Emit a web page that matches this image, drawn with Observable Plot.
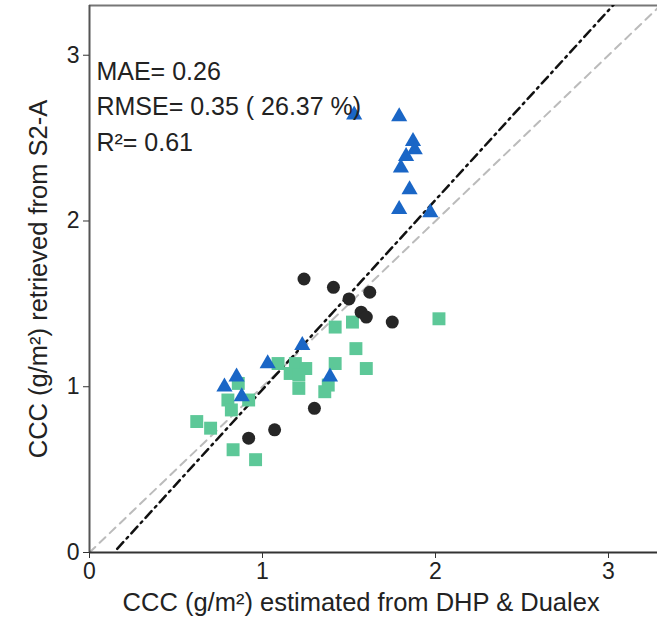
<!DOCTYPE html>
<html><head><meta charset="utf-8">
<script src="https://cdn.jsdelivr.net/npm/d3@7"></script>
<script src="https://cdn.jsdelivr.net/npm/@observablehq/plot@0.6"></script>
<style>body{margin:0;background:#fff} svg{display:block}</style>
</head><body><div id="chart"></div>
<script>
// Blue triangles
const triX = [1.53,1.79,1.87,1.88,1.83,1.80,1.85,1.79,1.97,1.23,1.03,1.39,0.85,0.78,0.88];
const triY = [2.64,2.63,2.48,2.43,2.39,2.32,2.19,2.07,2.05,1.25,1.14,1.06,1.06,1.00,0.94];
// Green squares
const sqX = [2.02,1.42,1.52,1.54,1.42,1.60,1.09,1.19,1.25,1.16,1.21,1.21,1.38,1.36,0.86,0.80,0.82,0.92,0.62,0.70,0.83,0.96];
const sqY = [1.41,1.36,1.39,1.23,1.14,1.11,1.14,1.14,1.11,1.08,1.07,0.99,1.01,0.97,1.02,0.92,0.86,0.92,0.79,0.75,0.62,0.56];
// Black circles
const circX = [1.24,1.41,1.62,1.50,1.57,1.60,1.75,1.30,1.07,0.92];
const circY = [1.65,1.60,1.57,1.53,1.45,1.42,1.39,0.87,0.74,0.69];
// Fit line (regression) and 1:1 line
const fitSlope = 1.144, fitIntercept = -0.161;
const fitXRange = [0.16, 3.03];
const oneXRange = [0, 3.3];
const stats = ["MAE= 0.26", "RMSE= 0.35 ( 26.37 %)", "R\u00b2= 0.61"];
const statY = [2.90, 2.69, 2.47];
const xTicks = [0,1,2,3], yTicks = [0,1,2,3];
const xTitle = "CCC (g/m\u00b2) estimated from DHP & Dualex";
const yTitle = "CCC (g/m\u00b2) retrieved from S2-A";

const tri = triX.map((x,i)=>({x, y: triY[i]}));
const sq = sqX.map((x,i)=>({x, y: sqY[i]}));
const circ = circX.map((x,i)=>({x, y: circY[i]}));
const fit = fitXRange.map(x=>({x, y: fitSlope*x + fitIntercept}));
const one = oneXRange.map(x=>({x, y: x}));
const statData = stats.map((t,i)=>({t, x: 0.04, y: statY[i]}));

const font = "'Liberation Sans', Arial, sans-serif";
const chart = Plot.plot({
  width: 657, height: 624,
  marginLeft: 89, marginRight: 0, marginTop: 5, marginBottom: 72,
  style: {fontFamily: font, color: "#222", background: "#fff"},
  x: {domain: [0, 568/173]},
  y: {domain: [0, 3.3]},
  marks: [
    Plot.ruleY([3.3], {stroke: "#777", strokeWidth: 2}),
    Plot.line(one, {x: "x", y: "y", stroke: "#bbb", strokeWidth: 2, strokeDasharray: "8,6", clip: true}),
    Plot.line(fit, {x: "x", y: "y", stroke: "#111", strokeWidth: 2.5, strokeDasharray: "9,5,2,5", clip: true}),
    Plot.dot(sq, {x: "x", y: "y", symbol: "square", r: 7.3, fill: "#5dc898", stroke: "none"}),
    Plot.dot(circ, {x: "x", y: "y", symbol: "circle", r: 6.5, fill: "#262626", stroke: "none"}),
    Plot.dot(tri, {x: "x", y: "y", symbol: "triangle", r: 6, fill: "#1a66c6", stroke: "none"}),
    Plot.text(statData, {x: "x", y: "y", text: "t", textAnchor: "start", fontSize: 25, fill: "#222"}),
    Plot.ruleX([0], {stroke: "#555", strokeWidth: 2}),
    Plot.ruleY([0], {stroke: "#333", strokeWidth: 2}),
    Plot.axisX({ticks: xTicks, tickSize: 6, tickPadding: 4, fontSize: 23, label: null, tickFormat: d3.format("d"), stroke: "#333"}),
    Plot.axisY({ticks: yTicks, tickSize: 6, tickPadding: 4, fontSize: 23, label: null, tickFormat: d3.format("d"), stroke: "#333"}),
    Plot.text([{t: xTitle, x: 1.57}], {x: "x", text: "t", frameAnchor: "bottom", dy: 58, fontSize: 25.5, fill: "#222"}),
    Plot.text([yTitle], {text: d => d, frameAnchor: "left", textAnchor: "middle", rotate: -90, dx: -51, fontSize: 25.5, fill: "#222"})
  ]
});
document.getElementById("chart").appendChild(chart);
</script>
</body></html>
